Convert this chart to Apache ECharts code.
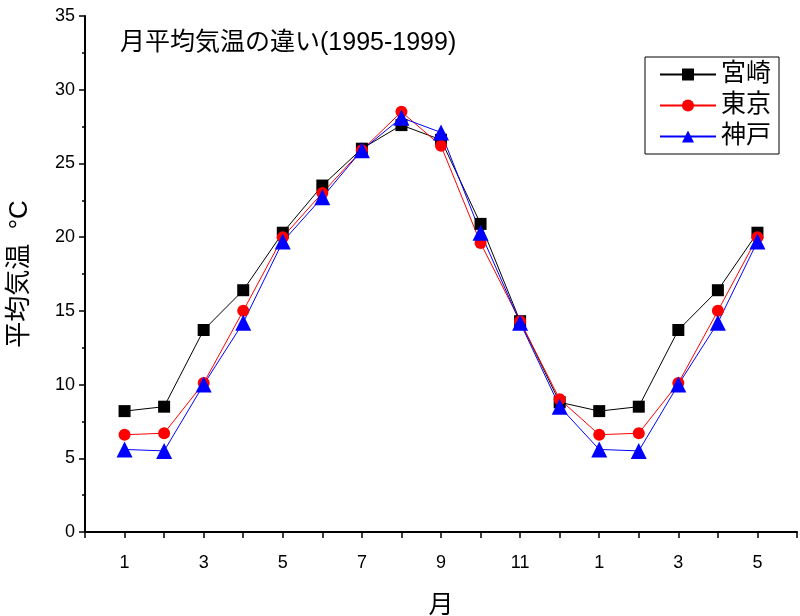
<!DOCTYPE html>
<html>
<head>
<meta charset="utf-8">
<script src="https://cdn.jsdelivr.net/npm/echarts@6/dist/echarts.min.js"></script>
<style>
  html, body { margin: 0; padding: 0; background: #fff; }
  #chart { width: 800px; height: 616px; }
</style>
</head>
<body>
<div id="chart"></div>
<script>
// 横軸の月ラベル（1995年1月から翌年5月まで）
const months = ['1','2','3','4','5','6','7','8','9','10','11','12','1','2','3','4','5'];
const miyazaki = [8.2, 8.5, 13.7, 16.4, 20.3, 23.5, 26.0, 27.6, 26.6, 20.9, 14.3, 8.8, 8.2, 8.5, 13.7, 16.4, 20.3];
const tokyo    = [6.6, 6.7, 10.1, 15.0, 20.0, 23.0, 25.9, 28.5, 26.2, 19.6, 14.3, 9.0, 6.6, 6.7, 10.1, 15.0, 20.0];
const kobe     = [5.6, 5.5, 10.0, 14.2, 19.7, 22.7, 25.9, 28.1, 27.1, 20.3, 14.2, 8.5, 5.6, 5.5, 10.0, 14.2, 19.7];
const yTicks = [0, 5, 10, 15, 20, 25, 30, 35];

const FONT = '"Liberation Sans", "Noto Sans CJK JP", sans-serif';
const toPoints = (arr) => arr.map((v, i) => [i + 1, v]);

const chart = echarts.init(document.getElementById('chart'));

const makeSeries = (name, data, color, symbol, size) => ({
  name: name,
  type: 'line',
  data: toPoints(data),
  symbol: symbol,
  symbolSize: size,
  color: color,
  lineStyle: { color: color, width: 1 },
  itemStyle: { color: color },
  emphasis: { disabled: true },
  animation: false,
});

chart.setOption({
  animation: false,
  grid: { left: 85, right: 3, top: 16, bottom: 84, outerBoundsMode: 'none', containLabel: false },
  title: {
    text: '月平均気温の違い(1995-1999)',
    left: 115,
    top: 26,
    textStyle: { fontFamily: FONT, fontSize: 25, fontWeight: 'normal', color: '#000' },
  },
  legend: {
    orient: 'vertical',
    left: 645,
    top: 57,
    padding: [5, 8, 5, 14],
    itemGap: 6,
    itemWidth: 56,
    itemHeight: 15,
    borderColor: '#000',
    borderWidth: 1,
    textStyle: { fontFamily: FONT, fontSize: 25, color: '#000' },
    data: ['宮崎', '東京', '神戸'],
  },
  xAxis: {
    type: 'value',
    min: 0,
    max: months.length + 1,
    interval: 1,
    name: '月',
    nameLocation: 'middle',
    nameGap: 62,
    nameTextStyle: { fontFamily: FONT, fontSize: 25, color: '#000' },
    splitLine: { show: false },
    axisLine: { lineStyle: { color: '#000', width: 2 } },
    axisTick: { inside: false, length: 6, lineStyle: { color: '#000', width: 1.5 } },
    axisLabel: {
      margin: 22,
      fontFamily: FONT,
      fontSize: 18,
      color: '#000',
      formatter: (v) => (v % 2 === 1 && months[v - 1]) ? months[v - 1] : '',
    },
  },
  yAxis: {
    type: 'value',
    min: yTicks[0],
    max: yTicks[yTicks.length - 1],
    interval: 5,
    name: '平均気温  °C',
    nameLocation: 'middle',
    nameGap: 52,
    nameRotate: 90,
    nameTextStyle: { fontFamily: FONT, fontSize: 26, color: '#000' },
    splitLine: { show: false },
    axisLine: { show: true, lineStyle: { color: '#000', width: 2 } },
    axisTick: { show: true, length: 6, lineStyle: { color: '#000', width: 1.5 } },
    minorTick: { show: true, splitNumber: 2, length: 3, lineStyle: { color: '#000', width: 1.5 } },
    axisLabel: { margin: 10, fontFamily: FONT, fontSize: 18, color: '#000' },
  },
  series: [
    makeSeries('宮崎', miyazaki, '#000000', 'rect', 12),
    makeSeries('東京', tokyo, '#ff0000', 'circle', 12),
    makeSeries('神戸', kobe, '#0000ff', 'triangle', 16),
  ],
});
</script>
</body>
</html>
